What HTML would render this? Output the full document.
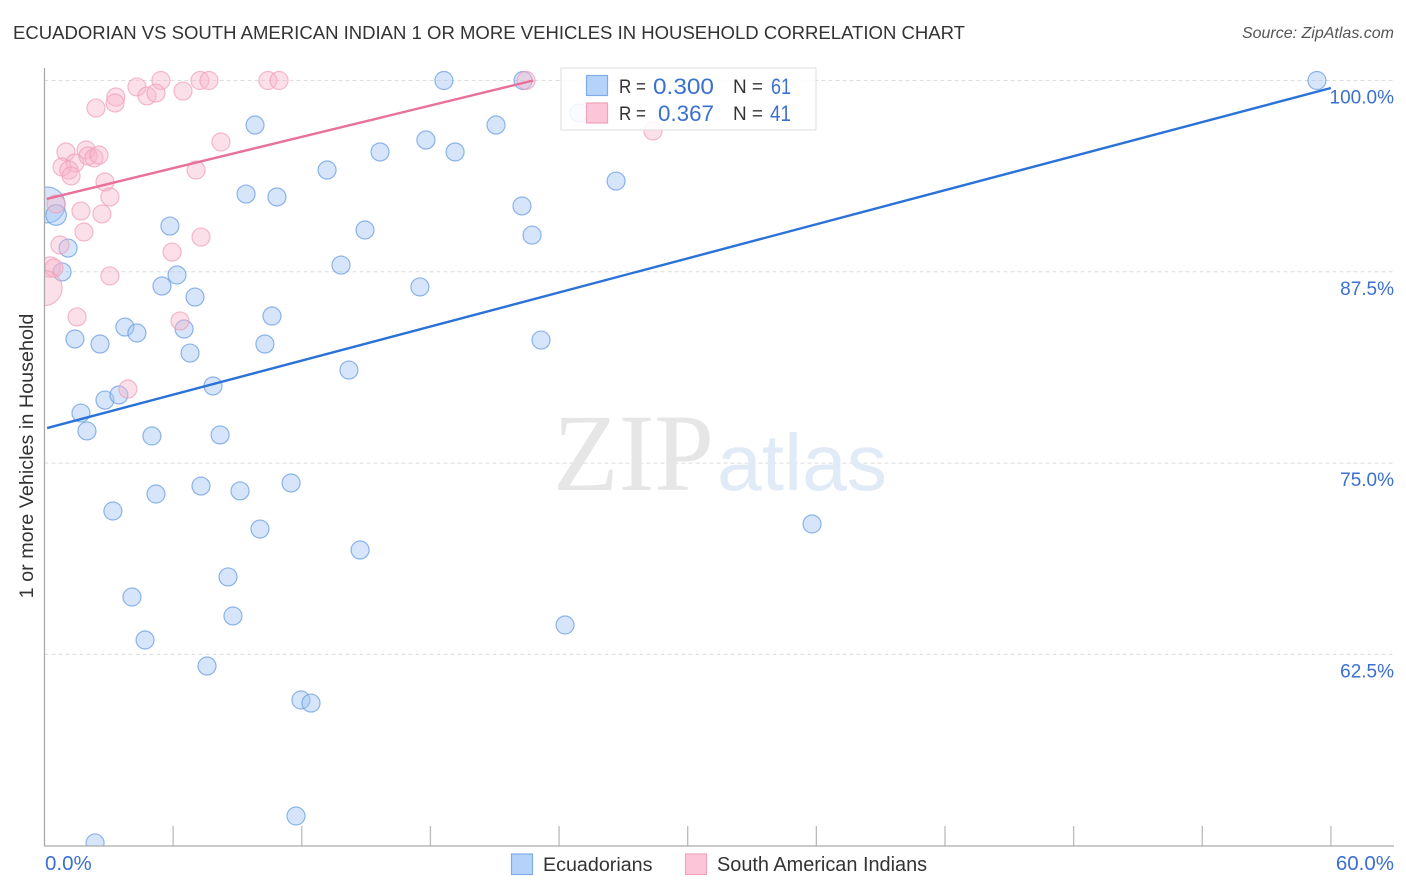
<!DOCTYPE html>
<html lang="en">
<head>
<meta charset="utf-8">
<title>Ecuadorian vs South American Indian correlation chart</title>
<style>
html,body{margin:0;padding:0;background:#fff;width:1406px;height:892px;overflow:hidden}
svg{display:block;font-family:"Liberation Sans",sans-serif}
</style>
</head>
<body>
<svg id="chart" xmlns="http://www.w3.org/2000/svg" width="1406" height="892" viewBox="0 0 1406 892">
<text x="13" y="39" font-size="18.5" fill="#333" textLength="952" lengthAdjust="spacingAndGlyphs">ECUADORIAN VS SOUTH AMERICAN INDIAN 1 OR MORE VEHICLES IN HOUSEHOLD CORRELATION CHART</text>
<text x="1394" y="38" font-size="16" font-style="italic" fill="#555" text-anchor="end">Source: ZipAtlas.com</text>
<g id="grid"></g>
<g>
<text x="553" y="490" font-family="'Liberation Serif',serif" font-size="110" fill="#e6e6e6" textLength="161" lengthAdjust="spacingAndGlyphs">ZIP</text>
<text x="717" y="490" font-size="80" fill="#e1ebf8" textLength="170" lengthAdjust="spacingAndGlyphs">atlas</text>
</g>
<g id="ticks"></g>
<g id="marks"></g>
<rect x="0" y="60" width="44.5" height="832" fill="#fff"/>
<rect x="0" y="846" width="1406" height="46" fill="#fff"/>
<line x1="44.5" y1="68" x2="44.5" y2="846" stroke="#aaa" stroke-width="1.3"/>
<line x1="44" y1="846" x2="1394" y2="846" stroke="#aaa" stroke-width="1.3"/>
<g id="lines"></g>
<g id="labels"></g>
<text transform="translate(33,456) rotate(-90)" font-size="19.8" fill="#333" text-anchor="middle">1 or more Vehicles in Household</text>
<g>
<rect x="561" y="68" width="255" height="62" fill="#fff" fill-opacity="0.85" stroke="#ddd" stroke-width="1"/>
<rect x="586.5" y="75.5" width="21" height="20" fill="#b5d3f9" stroke="#7fabe8" stroke-width="1.2"/>
<rect x="586.5" y="103" width="21" height="20" fill="#fcc6d8" stroke="#f0a3bc" stroke-width="1.2"/>
<text x="619" y="93" font-size="19" fill="#333" textLength="27" lengthAdjust="spacingAndGlyphs">R =</text>
<text x="653" y="94" font-size="22" fill="#3b6fd0" textLength="61" lengthAdjust="spacingAndGlyphs">0.300</text>
<text x="733" y="93" font-size="19" fill="#333" textLength="30" lengthAdjust="spacingAndGlyphs">N =</text>
<text x="771" y="94" font-size="22" fill="#3b6fd0" textLength="20" lengthAdjust="spacingAndGlyphs">61</text>
<text x="619" y="120" font-size="19" fill="#333" textLength="27" lengthAdjust="spacingAndGlyphs">R =</text>
<text x="658" y="121" font-size="22" fill="#3b6fd0" textLength="56" lengthAdjust="spacingAndGlyphs">0.367</text>
<text x="733" y="120" font-size="19" fill="#333" textLength="30" lengthAdjust="spacingAndGlyphs">N =</text>
<text x="770" y="121" font-size="22" fill="#3b6fd0" textLength="21" lengthAdjust="spacingAndGlyphs">41</text>
</g>
<g>
<g>
<rect x="511.5" y="854" width="21" height="20.5" fill="#b5d3f9" stroke="#7fabe8" stroke-width="1.2"/>
<text x="543" y="871" font-size="19.7" fill="#333">Ecuadorians</text>
</g>
<g>
<rect x="685.5" y="854" width="21" height="20.5" fill="#fcc6d8" stroke="#f0a3bc" stroke-width="1.2"/>
<text x="717" y="871" font-size="19.9" fill="#333">South American Indians</text>
</g>
</g>
</svg>
<script>
const yTickValues = [100, 87.5, 75, 62.5];
const yTickLabels = ['100.0%', '87.5%', '75.0%', '62.5%'];
const xTickValues = [6, 12, 18, 24, 30, 36, 42, 48, 54, 60];
const xEndLabels = ['0.0%', '60.0%'];

const ecuadorianX = [0.12,0.54,0.82,1.10,1.42,1.70,1.98,2.59,2.82,3.19,3.47,3.75,4.08,4.31,4.69,5.01,5.20,5.48,5.85,6.18,6.51,6.79,7.02,7.30,7.58,7.86,8.19,8.56,8.79,9.12,9.40,9.82,10.05,10.28,10.61,10.84,11.50,11.73,11.96,12.43,13.18,13.83,14.20,14.72,14.95,15.65,17.51,17.79,18.63,19.15,21.06,22.27,22.32,22.74,23.16,24.28,24.93,26.66,35.80,59.35,2.36];
const ecuadorianY = [91.87,91.21,87.49,89.05,83.11,78.27,77.10,82.78,79.12,71.87,79.45,83.89,66.25,83.50,63.44,76.77,72.98,86.57,90.49,87.29,83.76,82.19,85.85,73.50,61.74,80.04,76.84,67.56,65.01,73.18,92.58,97.09,70.69,82.78,84.61,92.39,73.70,51.94,59.52,59.32,94.15,87.94,81.08,69.32,90.23,95.33,86.51,96.11,100,95.33,97.09,91.80,100,89.90,83.04,64.42,97.88,93.43,71.02,100,50.18];
const ecuadorianWeight = [4,1.3,1,1,1,1,1,1,1,1,1,1,1,1,1,1,1,1,1,1,1,1,1,1,1,1,1,1,1,1,1,1,1,1,1,1,1,1,1,1,1,1,1,1,1,1,1,1,1,1,1,1,1,1,1,1,1,1,1,1,1];

const indianX = [5.43,4.31,4.78,5.20,3.33,3.29,2.40,6.46,7.25,7.67,10.42,10.94,8.23,1.00,1.94,1.42,0.82,1.14,1.24,2.03,2.31,2.54,7.07,2.82,3.05,1.70,2.68,0.54,1.84,0.72,7.30,5.95,0.26,0.44,3.05,0,1.52,6.32,3.89,22.46,28.38];
const indianY = [100,99.58,98.99,99.18,98.92,98.53,98.20,99.31,100,100,100,100,95.98,95.33,95.46,94.61,94.35,94.15,93.76,95.07,94.94,95.13,94.15,93.37,92.39,91.47,91.28,91.93,90.10,89.25,89.77,88.79,87.81,87.75,87.23,86.44,84.55,84.29,79.84,100,96.70];
const indianWeight = [1,1,1,1,1,1,1,1,1,1,1,1,1,1,1,1,1,1,1,1,1,1,1,1,1,1,1,1,1,1,1,1,1.3,1,1,3.8,1,1,1,1,1];

const ecuadorianTrendX = [0.12, 60];
const ecuadorianTrendY = [77.29, 99.51];
const indianTrendX = [0.1, 22.8];
const indianTrendY = [92.26, 100];

const NS = 'http://www.w3.org/2000/svg';
function xScale(v) { return 44.5 + v * 21.44; }
function yScale(v) { return 80.5 + (100 - v) * 15.304; }
function radius(w) { return 9 * Math.sqrt(w); }
function make(tag, attrs, parent, text) {
  const el = document.createElementNS(NS, tag);
  for (const k in attrs) el.setAttribute(k, attrs[k]);
  if (text !== undefined) el.textContent = text;
  parent.appendChild(el);
  return el;
}

const gridG = document.getElementById('grid');
const tickG = document.getElementById('ticks');
const labelG = document.getElementById('labels');
const marksG = document.getElementById('marks');
const linesG = document.getElementById('lines');

yTickValues.forEach(function (v, i) {
  const ln = make('line', {x1: 44.5, x2: 1394, y1: yScale(v), y2: yScale(v), stroke: '#dcdcdc', 'stroke-width': 1, 'stroke-dasharray': '4 3'}, gridG);
  
  
  const t = make('text', {x: 1394, y: yScale(v) + 23, 'font-size': 19, fill: '#3b6fd0', 'text-anchor': 'end'}, labelG, yTickLabels[i]);
  
  
});

xTickValues.forEach(function (v) {
  const ln = make('line', {x1: xScale(v), x2: xScale(v), y1: 826, y2: 846, stroke: '#bbb', 'stroke-width': 1.3}, tickG);
  
  
});

const x0Label = make('text', {x: 45, y: 870, 'font-size': 20.5, fill: '#3b6fd0'}, labelG, xEndLabels[0]);


const x1Label = make('text', {x: 1394, y: 870, 'font-size': 20.5, fill: '#3b6fd0', 'text-anchor': 'end'}, labelG, xEndLabels[1]);



ecuadorianX.forEach(function (v, i) {
  const c = make('circle', {cx: xScale(v), cy: yScale(ecuadorianY[i]), r: radius(ecuadorianWeight[i]), fill: '#a3c6f3', 'fill-opacity': 0.45, stroke: '#6a9ee2', 'stroke-opacity': 0.75, 'stroke-width': 1.2}, marksG);
  
  
});
indianX.forEach(function (v, i) {
  const c = make('circle', {cx: xScale(v), cy: yScale(indianY[i]), r: radius(indianWeight[i]), fill: '#f8b6cb', 'fill-opacity': 0.42, stroke: '#f09db8', 'stroke-opacity': 0.7, 'stroke-width': 1.2}, marksG);
  
  
});

const blueLine = make('line', {x1: xScale(ecuadorianTrendX[0]), y1: yScale(ecuadorianTrendY[0]), x2: xScale(ecuadorianTrendX[1]), y2: yScale(ecuadorianTrendY[1]), stroke: '#2a72d8', 'stroke-width': 2.4}, linesG);


const pinkLine = make('line', {x1: xScale(indianTrendX[0]), y1: yScale(indianTrendY[0]), x2: xScale(indianTrendX[1]), y2: yScale(indianTrendY[1]), stroke: '#e8709a', 'stroke-width': 2.4}, linesG);


</script>
</body>
</html>
